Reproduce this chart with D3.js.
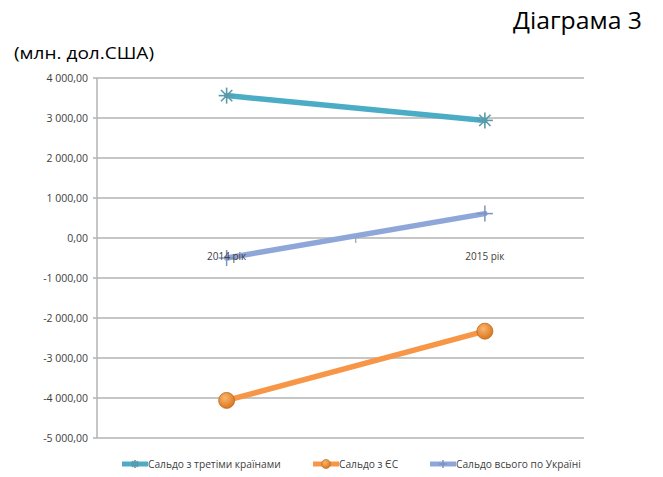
<!DOCTYPE html>
<html><head><meta charset="utf-8">
<script src="https://cdn.jsdelivr.net/npm/d3@7"></script>
<style>body{margin:0;background:#fff}svg{display:block}</style>
</head><body>
<script>
const categories = ["2014 рік", "2015 рік"];
const seriesNames = ["Сальдо з третіми країнами", "Сальдо з ЄС", "Сальдо всього по Україні"];
const thirdCountries = [3560, 2940];
const eu = [-4060, -2330];
const totalUkraine = [-500, 610];
const yTicks = [4000, 3000, 2000, 1000, 0, -1000, -2000, -3000, -4000, -5000];
const colors = ["#4bacc6", "#f79646", "#8fa7d8"];

const W = 663, H = 477;
const svg = d3.select("body").append("svg").attr("width", W).attr("height", H);
const font = "'Open Sans', sans-serif";

const x = d3.scaleBand().domain(categories).range([97.5, 614]);
const y = d3.scaleLinear().domain([-5000, 4000]).range([438, 78]);
const gridRight = 584;

// title
svg.append("text").attr("x", 513).attr("y", 29)
  .attr("font-family", font).attr("font-size", 23).attr("fill", "#000")
  .attr("textLength", 129).attr("lengthAdjust", "spacingAndGlyphs").text("Діаграма 3");
svg.append("text").attr("x", 14).attr("y", 59)
  .attr("font-family", font).attr("font-size", 16.5).attr("fill", "#000")
  .attr("textLength", 140).attr("lengthAdjust", "spacingAndGlyphs").text("(млн. дол.США)");

// gridlines
svg.append("g").selectAll("line").data(yTicks).join("line")
  .attr("x1", 93).attr("x2", gridRight).attr("y1", d => y(d)).attr("y2", d => y(d))
  .attr("stroke", "#b3b3b3").attr("stroke-width", 1.5);
// y axis line
svg.append("line").attr("x1", 97).attr("x2", 97).attr("y1", 78).attr("y2", 438)
  .attr("stroke", "#b3b3b3").attr("stroke-width", 1.5);
// category axis tick mark between categories
svg.append("line").attr("x1", x(categories[1])).attr("x2", x(categories[1]))
  .attr("y1", y(0) - 2).attr("y2", y(0) + 5)
  .attr("stroke", "#a0a0a0").attr("stroke-width", 1.2);

const fmt = v => d3.format(",.2f")(v).replace(/,/g, " ").replace(".", ",").replace("−", "-");
svg.append("g").selectAll("text").data(yTicks).join("text")
  .attr("x", 88).attr("y", d => y(d) + 3.5).attr("text-anchor", "end")
  .attr("font-family", font).attr("font-size", 10.5).attr("fill", "#404040")
  .text(d => fmt(d));

const cx = d => x(d) + x.bandwidth() / 2;
const series = [thirdCountries, eu, totalUkraine];
const line = d3.line().x((d, i) => cx(categories[i])).y(d => y(d));

series.forEach((s, k) => {
  svg.append("path").datum(s).attr("d", line).attr("fill", "none")
    .attr("stroke", colors[k]).attr("stroke-width", 5.5).attr("stroke-linecap", "round");
});

// markers
function star(g, px, py, r, col) {
  for (let a = 0; a < 4; a++) {
    const ang = a * Math.PI / 4;
    g.append("line").attr("x1", px - r * Math.cos(ang)).attr("y1", py - r * Math.sin(ang))
      .attr("x2", px + r * Math.cos(ang)).attr("y2", py + r * Math.sin(ang))
      .attr("stroke", col).attr("stroke-width", 1.6);
  }
}
function plus(g, px, py, r, col) {
  g.append("line").attr("x1", px - r).attr("x2", px + r).attr("y1", py).attr("y2", py).attr("stroke", col).attr("stroke-width", 1.5);
  g.append("line").attr("x1", px).attr("x2", px).attr("y1", py - r).attr("y2", py + r).attr("stroke", col).attr("stroke-width", 1.5);
}
const defs = svg.append("defs");
const grad = defs.append("radialGradient").attr("id", "og").attr("cx", "40%").attr("cy", "35%").attr("r", "65%");
grad.append("stop").attr("offset", "0%").attr("stop-color", "#fbb56e");
grad.append("stop").attr("offset", "100%").attr("stop-color", "#d9781f");

const mg = svg.append("g");
thirdCountries.forEach((v, i) => star(mg, cx(categories[i]), y(v), 8, "#5b9aa8"));
eu.forEach((v, i) => mg.append("circle").attr("cx", cx(categories[i])).attr("cy", y(v)).attr("r", 8)
  .attr("fill", "url(#og)").attr("stroke", "#b86a20").attr("stroke-width", 0.8));
totalUkraine.forEach((v, i) => plus(mg, cx(categories[i]), y(v), 8, "#7d93c0"));

// category labels (drawn above lines)
svg.append("g").selectAll("text").data(categories).join("text")
  .attr("x", d => cx(d)).attr("y", y(0) + 22).attr("text-anchor", "middle")
  .attr("font-family", font).attr("font-size", 10).attr("fill", "#404040").text(d => d);

// legend
const legX = [122, 313, 430];
const lg = svg.append("g");
seriesNames.forEach((n, k) => {
  const x0 = legX[k], ly = 464;
  lg.append("line").attr("x1", x0).attr("x2", x0 + 26).attr("y1", ly).attr("y2", ly)
    .attr("stroke", colors[k]).attr("stroke-width", 5);
  if (k === 0) star(lg, x0 + 13, ly, 4, "#5b9aa8");
  if (k === 1) lg.append("circle").attr("cx", x0 + 13).attr("cy", ly).attr("r", 4.5).attr("fill", "url(#og)").attr("stroke", "#b86a20").attr("stroke-width", 0.6);
  if (k === 2) plus(lg, x0 + 13, ly, 4, "#7d93c0");
  lg.append("text").attr("x", x0 + 26).attr("y", ly + 3.5).attr("font-family", font)
    .attr("font-size", 10.2).attr("fill", "#404040").text(n);
});
</script>
</body></html>
